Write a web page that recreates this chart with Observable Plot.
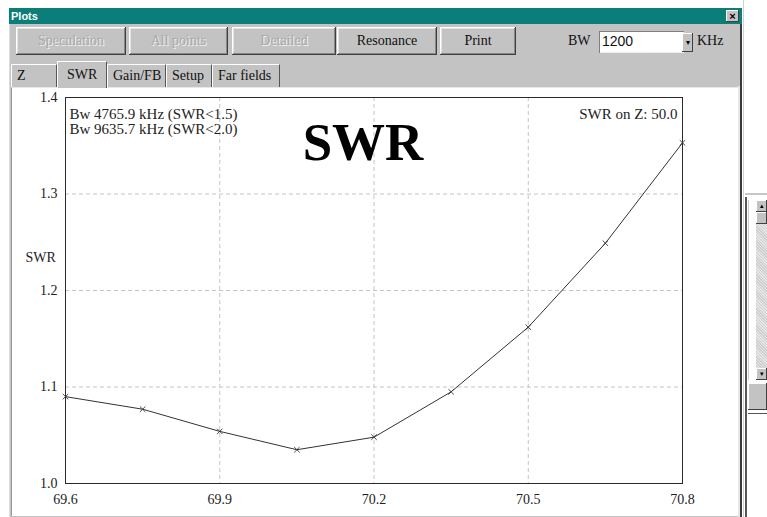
<!DOCTYPE html>
<html>
<head>
<meta charset="utf-8">
<script src="https://cdn.jsdelivr.net/npm/d3@7"></script>
<script src="https://cdn.jsdelivr.net/npm/@observablehq/plot@0.6"></script>
<style>
  html, body { margin:0; padding:0; }
  body { width:767px; height:517px; overflow:hidden; background:#fff; position:relative; font-family:"Liberation Serif", "Times New Roman", "DejaVu Serif", serif; }
  .abs { position:absolute; box-sizing:border-box; }
  .serif { font-family:"Liberation Serif", "Times New Roman", "DejaVu Serif", serif; font-weight:normal; }
  .win { left:9px; top:8px; width:733px; height:509px; background:#c3c3c3; border-left:1px solid #dcdcdc; }
  .title { left:9px; top:8px; width:733px; height:16px; background:#0b7e79; color:#fff; font:bold 11px "Liberation Sans", Arial, sans-serif; line-height:16px; padding-left:2px; }
  .close { left:726px; top:10px; width:13px; height:12px; background:#c3c3c3; box-shadow: inset -1px -1px #404040, inset 1px 1px #fff; font:bold 11px "Liberation Sans", sans-serif; text-align:center; line-height:12px; color:#000; }
  .btn { top:27px; height:28px; background:#c3c3c3; box-shadow: inset -1px -1px #404040, inset 1px 1px #fff, inset -2px -2px #888, inset 2px 2px #e4e4e4; font-size:14px; text-align:center; line-height:27px; color:#111; }
  .btn.dis { color:#a9a9a9; text-shadow:1px 1px 0 #f4f4f4; }
  .tab { top:64px; height:23px; background:#c3c3c3; border-top:1px solid #fff; border-left:1px solid #fff; border-right:1px solid #555; font-size:14px; line-height:21px; padding-left:5px; color:#111; }
  .tab.act { top:61px; height:27px; line-height:25px; z-index:2; }
  .panel { left:11px; top:87px; width:728px; height:429px; background:#fff; border-top:1px solid #e8e8e8; border-left:1px solid #9a9a9a; }
  .lbl { font-size:14px; color:#111; }
</style>
</head>
<body>
<div class="abs win"></div>
<div class="abs title">Plots</div>
<div class="abs close">×</div>

<div id="buttons"></div>

<div class="abs lbl serif" style="left:568px; top:33px;">BW</div>
<div class="abs" style="left:599px; top:31px; width:85px; height:22px; background:#fff; box-shadow: inset 1px 1px #808080, inset -1px -1px #eee; font:14px 'Liberation Sans', sans-serif; line-height:20px; padding-left:3px; color:#111;">1200</div>
<div class="abs" style="left:682px; top:33px; width:11px; height:19px; background:#c3c3c3; box-shadow: inset -1px -1px #404040, inset 1px 1px #fff; font:8px sans-serif; text-align:center; line-height:19px;">▾</div>
<div class="abs lbl serif" style="left:697px; top:33px;">KHz</div>

<div id="tabs"></div>

<div class="abs panel"></div>
<div class="abs" style="left:738px; top:86px; width:2px; height:431px; background:#e6e6e6;"></div>
<div class="abs" style="left:740px; top:24px; width:2px; height:493px; background:#3a3a3a;"></div>

<!-- neighbouring window on the right -->
<div class="abs" style="left:743px; top:0px; width:1px; height:517px; background:#d0d0d0;"></div>
<div class="abs" style="left:745px; top:193px; width:22px; height:2px; background:#c6c6c6;"></div>
<div class="abs" style="left:745px; top:197px; width:2px; height:320px; background:#555;"></div>
<div class="abs" style="left:748px; top:200px; width:8px; height:180px; background:#fff; border-left:1px solid #ccc;"></div>
<div class="abs" style="left:756px; top:200px; width:11px; height:180px; background:repeating-linear-gradient(45deg,#cfcfcf 0 1px,#e6e6e6 1px 2px);"></div>
<div class="abs" style="left:756px; top:200px; width:11px; height:12px; background:#c3c3c3; box-shadow: inset -1px -1px #404040, inset 1px 1px #fff; font:7px sans-serif; text-align:center; line-height:12px;">▴</div>
<div class="abs" style="left:756px; top:212px; width:11px; height:12px; background:#c3c3c3; box-shadow: inset -1px -1px #404040, inset 1px 1px #fff;"></div>
<div class="abs" style="left:756px; top:368px; width:11px; height:12px; background:#c3c3c3; box-shadow: inset -1px -1px #404040, inset 1px 1px #fff; font:7px sans-serif; text-align:center; line-height:12px;">▾</div>
<div class="abs" style="left:748px; top:383px; width:19px; height:27px; background:#c3c3c3; box-shadow: inset -1px -1px #404040, inset 1px 1px #fff;"></div>
<div class="abs" style="left:748px; top:413px; width:19px; height:104px; background:#fff; border-top:1px solid #555;"></div>

<div id="chart" class="abs" style="left:11px; top:87px; z-index:3;"></div>

<script>
// ---- data ----
const freqs = [69.6, 69.75, 69.9, 70.05, 70.2, 70.35, 70.5, 70.65, 70.8];
const swrValues = [1.090, 1.077, 1.054, 1.035, 1.048, 1.095, 1.162, 1.249, 1.353];
const xTicks = [69.6, 69.9, 70.2, 70.5, 70.8];
const yTicks = [1.0, 1.1, 1.2, 1.3, 1.4];
const bwLines = ["Bw 4765.9 kHz (SWR<1.5)", "Bw 9635.7 kHz (SWR<2.0)"];
const zNote = ["SWR on Z: 50.0"];
const chartTitle = ["SWR"];
const yLabel = ["SWR"];

const buttonLabels = ["Speculation", "All points", "Detailed", "Resonance", "Print"];
const buttonEnabled = [false, false, false, true, true];
const tabLabels = ["Z", "SWR", "Gain/FB", "Setup", "Far fields"];

const SERIF = "'Liberation Serif', 'Times New Roman', 'DejaVu Serif', serif";

// ---- window chrome ----
const btnPos = [[16,110],[129,99],[232,104],[337,100],[440,76]];
const bHost = document.getElementById("buttons");
buttonLabels.forEach((t,i) => {
  const d = document.createElement("div");
  d.className = "abs btn serif" + (buttonEnabled[i] ? "" : " dis");
  d.style.left = btnPos[i][0] + "px"; d.style.width = btnPos[i][1] + "px";
  d.textContent = t; bHost.appendChild(d);
});
const tabPos = [[11,46],[57,50],[107,59],[166,46],[212,68]];
const tHost = document.getElementById("tabs");
tabLabels.forEach((t,i) => {
  const d = document.createElement("div");
  d.className = "abs tab serif" + (i === 1 ? " act" : "");
  d.style.left = tabPos[i][0] + "px"; d.style.width = tabPos[i][1] + "px";
  if (i === 1) d.style.paddingLeft = "9px";
  d.textContent = t; tHost.appendChild(d);
});

// ---- chart ----
const data = freqs.map((f,i) => ({f, swr: swrValues[i]}));
const fmt = d => d.toFixed(1);
const grid = {stroke:"#c4c4c4", strokeOpacity:1, strokeDasharray:"4,3"};

const chart = Plot.plot({
  width: 726, height: 428,
  marginLeft: 54, marginRight: 55, marginTop: 10, marginBottom: 32,
  style: {fontFamily: SERIF, fontSize:"14px", background:"transparent", color:"#222"},
  x: {domain:[69.6, 70.8]},
  y: {domain:[1.0, 1.4]},
  marks: [
    Plot.gridX(xTicks.slice(1,-1), grid),
    Plot.gridY(yTicks.slice(1,-1), grid),
    Plot.frame({stroke:"#2a2a2a"}),
    Plot.axisX({ticks:xTicks, tickSize:0, tickPadding:11, tickFormat:fmt, label:null, fontFamily: SERIF}),
    Plot.axisY({ticks:yTicks, tickSize:0, tickPadding:8, tickFormat:fmt, label:null, fontFamily: SERIF}),
    Plot.line(data, {x:"f", y:"swr", stroke:"#333", strokeWidth:1}),
    Plot.dot(data, {x:"f", y:"swr", symbol:"times", r:2.6, stroke:"#333", strokeWidth:0.9}),
    Plot.text([bwLines.join("\n")], {text:d=>d, frameAnchor:"top-left", dx:4, dy:11, lineHeight:1, fontSize:15, fill:"#222", fontFamily: SERIF}),
    Plot.text(zNote, {text:d=>d, frameAnchor:"top-right", dx:-5, dy:11, fontSize:15, fill:"#222", fontFamily: SERIF}),
    Plot.text(chartTitle, {text:d=>d, frameAnchor:"top", dx:-11, dy:25, fontSize:53, fontWeight:"bold", fill:"#000", fontFamily: SERIF}),
    Plot.text(yLabel, {text:d=>d, frameAnchor:"left", textAnchor:"start", dx:-40, dy:-33, fontSize:14, fill:"#222", fontFamily: SERIF})
  ]
});
document.getElementById("chart").appendChild(chart);
</script>
</body>
</html>
